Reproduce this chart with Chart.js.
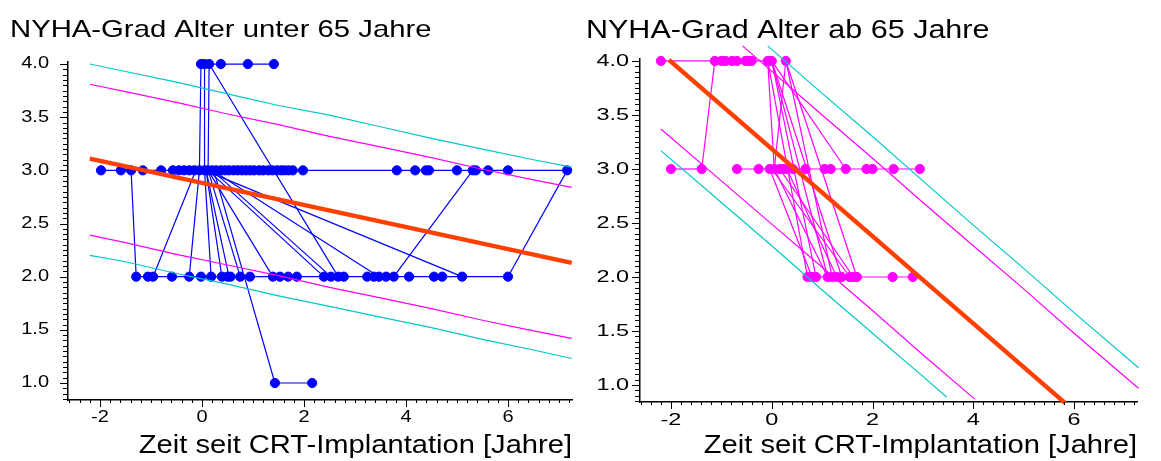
<!DOCTYPE html>
<html>
<head>
<meta charset="utf-8">
<script src="https://cdn.jsdelivr.net/npm/chart.js@4.4.1/dist/chart.umd.min.js"></script>
<style>
  html, body { margin: 0; padding: 0; background: #fff; }
  #wrap { display: flex; width: 1161px; height: 461px; }
  canvas { display: block; }
</style>
</head>
<body>
<div id="wrap">
  <canvas id="chartYoung" width="580" height="461"></canvas>
  <canvas id="chartOld" width="581" height="461"></canvas>
</div>
<script>
// ---- Achsen ----
const xTickValues = [-2, 0, 2, 4, 6];
const xTickLabels = ['-2', '0', '2', '4', '6'];
const yTickValues = [1, 1.5, 2, 2.5, 3, 3.5, 4];
const yTickLabels = ['1.0', '1.5', '2.0', '2.5', '3.0', '3.5', '4.0'];

// ---- Alter unter 65 Jahre (blau) ----
const youngLevel4 = [-0.02, 0.05, 0.14, 0.37, 0.9, 1.41];
const youngLevel3 = [-1.98, -1.59, -1.39, -1.16, -0.8, -0.57, -0.45, -0.35, -0.25, -0.15, -0.05, 0.05, 0.12, 0.2, 0.28, 0.37, 0.45, 0.53, 0.62, 0.7, 0.78, 0.86, 0.94, 1.02, 1.12, 1.2, 1.3, 1.38, 1.47, 1.55, 1.62, 1.7, 1.78, 1.98, 3.82, 4.18, 4.39, 4.45, 5.0, 5.31, 5.37, 5.61, 6.0, 7.16];
const youngLevel2 = [-1.29, -1.06, -0.96, -0.59, -0.25, -0.02, 0.18, 0.39, 0.5, 0.56, 0.75, 0.94, 1.39, 1.53, 1.69, 1.86, 2.39, 2.53, 2.67, 2.78, 3.24, 3.37, 3.47, 3.61, 3.76, 4.06, 4.55, 4.71, 5.1, 6.0];
const youngLevel1 = [1.43, 2.16];
// Wechsel zwischen NYHA-Stufen: [x1, y1, x2, y2]
const youngChanges = [
  [-1.39, 3, -1.29, 2], [-0.96, 2, -0.12, 3], [-0.25, 2, -0.05, 3],
  [-0.02, 4, -0.05, 3], [0.05, 4, 0.05, 3], [0.14, 4, 0.12, 3],
  [0.14, 4, 2.67, 2], [0.05, 3, 0.18, 2], [0.08, 3, 0.39, 2],
  [0.08, 3, 0.53, 2], [0.12, 3, 0.75, 2], [0.12, 3, 1.39, 2],
  [0.12, 3, 2.39, 2], [0.2, 3, 2.53, 2], [0.2, 3, 3.47, 2],
  [0.05, 3, 5.1, 2], [0.23, 3, 1.43, 1], [3.76, 2, 5.31, 3],
  [6.0, 2, 7.16, 3]
];
const youngTrend = [[-2.2, 3.11], [7.25, 2.13]];
const youngCyanUpper = [[-2.2, 4.0], [-1.5, 3.93], [-0.5, 3.83], [0.5, 3.72], [1.5, 3.61], [2.5, 3.52], [3.5, 3.41], [4.5, 3.30], [5.5, 3.20], [6.5, 3.10], [7.25, 3.03]];
const youngMagentaUpper = [[-2.2, 3.81], [-1.5, 3.74], [-0.5, 3.64], [0.5, 3.53], [1.5, 3.43], [2.5, 3.32], [3.5, 3.22], [4.5, 3.12], [5.5, 3.01], [6.5, 2.91], [7.25, 2.84]];
const youngMagentaLower = [[-2.2, 2.39], [-1.5, 2.32], [-0.5, 2.21], [0.5, 2.11], [1.5, 2.01], [2.5, 1.90], [3.5, 1.80], [4.5, 1.70], [5.5, 1.59], [6.5, 1.49], [7.25, 1.42]];
const youngCyanLower = [[-2.2, 2.20], [-1.5, 2.14], [-0.5, 2.03], [0.5, 1.93], [1.5, 1.82], [2.5, 1.72], [3.5, 1.62], [4.5, 1.52], [5.5, 1.41], [6.5, 1.31], [7.25, 1.23]];

// ---- Alter ab 65 Jahre (magenta) ----
const oldLevel4 = [-2.2, -1.13, -1.0, -0.92, -0.79, -0.69, -0.52, -0.45, -0.4, -0.08, 0.0];
const oldLevel4Single = [0.28];
const oldLevel3Left = [-2.0, -1.39];
const oldLevel3 = [-0.69, -0.26, -0.04, 0.05, 0.16, 0.22, 0.3, 0.42, 0.67, 1.05, 1.17, 1.47, 1.88, 2.0, 2.42, 2.94];
const oldLevel2 = [0.71, 0.8, 0.88, 1.11, 1.2, 1.29, 1.39, 1.55, 1.62, 1.69, 2.4, 2.8];
const oldChanges = [
  [-1.39, 3, -1.13, 4], [-0.08, 4, 0.05, 3], [0.05, 3, 0.28, 4],
  [0.0, 4, 1.47, 3], [-0.08, 4, 0.71, 2], [0.0, 4, 0.88, 2],
  [0.0, 4, 1.11, 2], [0.0, 4, 1.39, 2], [0.28, 4, 1.2, 2],
  [0.28, 4, 1.69, 2], [-0.04, 3, 0.8, 2], [0.05, 3, 1.11, 2],
  [0.0, 3, 1.55, 2], [0.16, 3, 1.62, 2], [0.3, 3, 1.29, 2]
];
const oldTrend = [[-2.04, 4.01], [5.82, 0.835]];
const oldCyanUpper = [[-0.08, 4.14], [1, 3.70], [2, 3.30], [3, 2.89], [4, 2.48], [5, 2.08], [6, 1.67], [7.28, 1.16]];
const oldMagentaUpper = [[-0.58, 4.14], [1, 3.50], [2, 3.10], [3, 2.69], [4, 2.29], [5, 1.89], [6, 1.48], [7.28, 0.97]];
const oldMagentaLower = [[-2.2, 3.37], [-1, 2.89], [0, 2.49], [1, 2.09], [2, 1.69], [3, 1.28], [4.03, 0.87]];
const oldCyanLower = [[-2.2, 3.17], [-1, 2.69], [0, 2.29], [1, 1.88], [2, 1.48], [3, 1.08], [3.47, 0.89]];

const FONT = '"Liberation Sans", Arial, sans-serif';
const BLUE = '#0000ff';
const PINK = '#ff00ff';
const CYAN = '#00c8c8';
const ORANGE = '#ff4000';

// horizontal gestreckte Schrift wie im Original (Faktor je Schriftgroesse)
const stretchBySize = { '16': 1.25, '17': 1.38, '24': 1.22, '25': 1.22, '26': 1.12 };

const stretchText = {
  id: 'stretchText',
  beforeDraw(chart) {
    const ctx = chart.ctx;
    if (ctx.plainFillText) return;
    ctx.plainFillText = ctx.fillText;
    ctx.fillText = function (text, x, y) {
      const m = /([\d.]+)px/.exec(this.font);
      const k = (m && stretchBySize[m[1]]) || 1;
      this.save();
      this.translate(x, y);
      this.scale(k, 1);
      this.plainFillText(text, 0, 0);
      this.restore();
    };
  }
};

// kleine und grosse Teilstriche
const axisTicks = {
  id: 'axisTicks',
  afterDraw(chart) {
    const { ctx, chartArea: a, scales: { x, y } } = chart;
    ctx.save();
    ctx.strokeStyle = '#000';
    ctx.lineWidth = 1;
    ctx.beginPath();
    for (let k = Math.ceil(x.min / 0.2 - 1e-6); k * 0.2 <= x.max + 1e-6; k++) {
      const px = Math.round(x.getPixelForValue(k * 0.2)) + 0.5;
      const len = k % 10 === 0 ? 7 : 3;
      ctx.moveTo(px, a.bottom);
      ctx.lineTo(px, a.bottom + len);
    }
    for (let k = Math.ceil(y.min / 0.05 - 1e-6); k * 0.05 <= y.max + 1e-6; k++) {
      const py = Math.round(y.getPixelForValue(k * 0.05)) + 0.5;
      const len = k % 10 === 0 ? 8 : 5;
      ctx.moveTo(a.left, py);
      ctx.lineTo(a.left - len, py);
    }
    ctx.stroke();
    ctx.restore();
  }
};

function pts(xs, level) {
  return xs.map(x => ({ x: x, y: level }));
}

function levelSet(xs, level, color) {
  return {
    data: pts(xs, level), showLine: true, borderColor: color, borderWidth: 1.2,
    pointRadius: 4.6, pointBorderWidth: 1, pointBackgroundColor: color, pointBorderColor: color,
    clip: false, order: 2
  };
}

function changeSet(c, color) {
  return {
    data: [{ x: c[0], y: c[1] }, { x: c[2], y: c[3] }], showLine: true,
    borderColor: color, borderWidth: 1.2, pointRadius: 0, clip: false, order: 3
  };
}

function curveSet(p, color, width, order) {
  return {
    data: p.map(v => ({ x: v[0], y: v[1] })), showLine: true,
    borderColor: color, borderWidth: width, pointRadius: 0, clip: false, order: order
  };
}

function makeChart(id, g) {
  return new Chart(document.getElementById(id), {
    type: 'scatter',
    data: { datasets: g.datasets },
    options: {
      responsive: false,
      animation: false,
      events: [],
      layout: { padding: { left: g.padLeft, right: g.padRight, top: 0, bottom: 0 } },
      plugins: {
        legend: { display: false },
        tooltip: { enabled: false },
        title: {
          display: true, text: g.title, align: 'start', color: '#000',
          font: { family: FONT, size: g.titleSize, weight: 'normal' },
          padding: { top: g.titleTop, bottom: g.titleBottom }
        }
      },
      scales: {
        x: {
          type: 'linear', min: g.xMin, max: g.xMax,
          afterBuildTicks: s => { s.ticks = xTickValues.map(v => ({ value: v })); },
          afterFit: s => { s.height = g.xHeight; },
          grid: { display: false, drawTicks: false },
          border: { display: true, color: '#000', width: 1.5 },
          ticks: {
            callback: (v, i) => xTickLabels[i], color: '#000', padding: g.xPad,
            maxRotation: 0, autoSkip: false, font: { family: FONT, size: g.tickSize }
          },
          title: {
            display: true, text: 'Zeit seit CRT-Implantation [Jahre]', align: 'end',
            color: '#000', padding: 0, font: { family: FONT, size: 26 }
          }
        },
        y: {
          type: 'linear', min: g.yMin, max: g.yMax,
          afterBuildTicks: s => { s.ticks = yTickValues.map(v => ({ value: v })); },
          afterFit: s => { s.width = g.yWidth; },
          grid: { display: false, drawTicks: false },
          border: { display: true, color: '#000', width: 1.5 },
          ticks: {
            callback: (v, i) => yTickLabels[i], color: '#000', padding: g.yPad,
            autoSkip: false, font: { family: FONT, size: g.tickSize }
          }
        }
      }
    },
    plugins: [stretchText, axisTicks]
  });
}

makeChart('chartYoung', {
  title: 'NYHA-Grad Alter unter 65 Jahre', titleSize: 24,
  padLeft: 10, padRight: 8, yWidth: 58, xHeight: 61,
  titleTop: 16, titleBottom: 17.1,
  xMin: -2.627, xMax: 7.255, yMin: 0.84, yMax: 4.02,
  tickSize: 16, xPad: 8, yPad: 19,
  datasets: [
    curveSet(youngTrend, ORANGE, 4.5, 0),
    curveSet(youngCyanUpper, CYAN, 1.2, 1),
    curveSet(youngMagentaUpper, PINK, 1.2, 1),
    curveSet(youngMagentaLower, PINK, 1.2, 1),
    curveSet(youngCyanLower, CYAN, 1.2, 1),
    levelSet(youngLevel4, 4, BLUE),
    levelSet(youngLevel3, 3, BLUE),
    levelSet(youngLevel2, 2, BLUE),
    levelSet(youngLevel1, 1, BLUE),
    ...youngChanges.map(c => changeSet(c, BLUE))
  ]
});

makeChart('chartOld', {
  title: 'NYHA-Grad Alter ab 65 Jahre', titleSize: 25,
  padLeft: 6, padRight: 24, yWidth: 54, xHeight: 59,
  titleTop: 16, titleBottom: 12.8,
  xMin: -2.615, xMax: 7.25, yMin: 0.843, yMax: 4.02,
  tickSize: 17, xPad: 8, yPad: 11,
  datasets: [
    curveSet(oldTrend, ORANGE, 4.5, 0),
    curveSet(oldCyanUpper, CYAN, 1.2, 1),
    curveSet(oldMagentaUpper, PINK, 1.2, 1),
    curveSet(oldMagentaLower, PINK, 1.2, 1),
    curveSet(oldCyanLower, CYAN, 1.2, 1),
    levelSet(oldLevel4, 4, PINK),
    levelSet(oldLevel4Single, 4, PINK),
    levelSet(oldLevel3Left, 3, PINK),
    levelSet(oldLevel3, 3, PINK),
    levelSet(oldLevel2, 2, PINK),
    ...oldChanges.map(c => changeSet(c, PINK))
  ]
});
</script>
</body>
</html>
